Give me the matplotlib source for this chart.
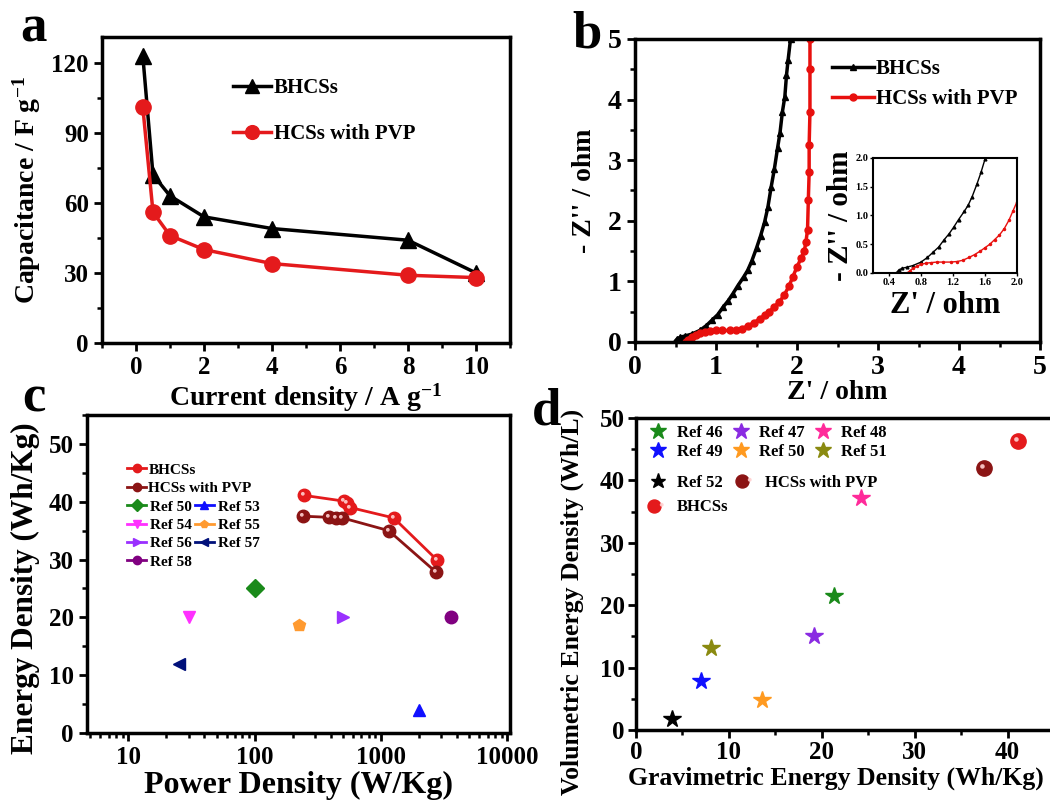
import numpy as np
import matplotlib

matplotlib.use("Agg")
import matplotlib.pyplot as plt
from matplotlib.markers import MarkerStyle
from matplotlib.transforms import Affine2D
from matplotlib.legend_handler import HandlerTuple
from matplotlib.ticker import MultipleLocator, FixedLocator, FixedFormatter, LogLocator, NullFormatter

plt.rcParams.update({
    "font.family": "serif",
    "font.serif": ["Liberation Serif", "DejaVu Serif"],
    "font.weight": "bold",
    "axes.labelweight": "bold",
    "mathtext.fontset": "custom",
    "mathtext.rm": "Liberation Serif:bold",
    "mathtext.bf": "Liberation Serif:bold",
    "mathtext.default": "bf",
    "axes.linewidth": 2.5,
    "xtick.direction": "out",
    "ytick.direction": "out",
    "xtick.major.width": 2,
    "ytick.major.width": 2,
    "xtick.minor.width": 1.8,
    "ytick.minor.width": 1.8,
    "xtick.major.size": 6,
    "ytick.major.size": 6,
    "xtick.minor.size": 3.5,
    "ytick.minor.size": 3.5,
})

# ---------- a: rate capability ----------
current_density = [0.2, 0.5, 1, 2, 4, 8, 10]
cap_bhcs = [123, 72, 63, 54, 49, 44, 30]
cap_hcs = [101, 56, 46, 40, 34, 29, 28]

# ---------- b: Nyquist plots ----------
zre_bhcs = [0.49, 0.52, 0.56, 0.62, 0.70, 0.80, 0.88, 0.95, 1.02, 1.09, 1.15, 1.21, 1.27, 1.34,
            1.39, 1.44, 1.50, 1.55, 1.60, 1.64, 1.68, 1.72, 1.76, 1.79, 1.82, 1.85, 1.87, 1.89, 1.92]
zim_bhcs = [0.00, 0.05, 0.08, 0.10, 0.13, 0.19, 0.27, 0.36, 0.45, 0.58, 0.68, 0.80, 0.93, 1.07,
            1.18, 1.33, 1.55, 1.75, 1.98, 2.22, 2.55, 2.85, 3.20, 3.45, 3.80, 4.05, 4.40, 4.65, 5.00]
zre_hcs = [0.63, 0.66, 0.70, 0.75, 0.80, 0.86, 0.92, 1.00, 1.08, 1.17, 1.25, 1.32, 1.40, 1.47,
           1.54, 1.60, 1.66, 1.72, 1.78, 1.84, 1.90, 1.95, 2.00, 2.05, 2.09, 2.11, 2.13, 2.14,
           2.15, 2.15, 2.16, 2.16, 2.16]
zim_hcs = [0.00, 0.04, 0.08, 0.12, 0.15, 0.17, 0.18, 0.19, 0.19, 0.19, 0.20, 0.22, 0.27, 0.32,
           0.38, 0.44, 0.50, 0.58, 0.66, 0.77, 0.92, 1.08, 1.24, 1.38, 1.50, 1.65, 1.85, 2.35,
           2.80, 3.25, 3.80, 4.50, 5.00]

# ---------- c: Ragone plot ----------
power_bhcs = [245, 510, 535, 570, 1260, 2750]
energy_bhcs = [41.1, 40.1, 39.7, 39.0, 37.2, 30.0]
power_hcs = [240, 390, 440, 495, 1150, 2700]
energy_hcs = [37.5, 37.3, 37.2, 37.2, 35.0, 27.9]
ref_c_labels = ["Ref 50", "Ref 53", "Ref 54", "Ref 55", "Ref 56", "Ref 57", "Ref 58"]
ref_c_power = [100, 2000, 30, 226, 500, 25, 3600]
ref_c_energy = [25.0, 4.0, 20.0, 18.7, 20.0, 12.0, 20.0]

# ---------- d: volumetric vs gravimetric ----------
ref_d_labels = ["Ref 46", "Ref 47", "Ref 48", "Ref 49", "Ref 50", "Ref 51", "Ref 52"]
ref_d_grav = [21.3, 19.2, 24.2, 6.95, 13.6, 8.1, 3.9]
ref_d_vol = [21.4, 15.1, 37.1, 7.9, 4.8, 13.1, 1.8]
grav_hcs, vol_hcs = [37.5], [42.0]
grav_bhcs, vol_bhcs = [41.1], [46.3]

W, H = 1050, 801
fig = plt.figure(figsize=(W / 100, H / 100), dpi=100)


def box(x0, y0, x1, y1):
    return [x0 / W, 1 - y1 / H, (x1 - x0) / W, (y1 - y0) / H]


def fpt(x, y):
    return (x / W, 1 - y / H)


RED = "#e41a1c"
DARKRED = "#8b1414"
hl_style = MarkerStyle("o", transform=Affine2D().translate(-0.45, 0.45))


def sphere(ax, x, y, color, ms):
    base, = ax.plot(x, y, ls="none", marker="o", ms=ms, mfc=color, mec=color, zorder=4)
    hl, = ax.plot(x, y, ls="none", marker=hl_style, ms=ms * 0.3, mfc="#ffd0d0", mec="none",
                  alpha=0.9, zorder=5)
    return base, hl


# ---------- panel a ----------
ax_a = fig.add_axes(box(102, 37, 510, 343))
ax_a.plot(current_density, cap_bhcs, color="black", lw=2.5, marker="^", ms=11, label="BHCSs")
ax_a.plot(current_density, cap_hcs, color=RED, lw=2.5, marker="o", ms=11, label="HCSs with PVP")
ax_a.set_xlim(-1, 11)
ax_a.set_ylim(0, 131)
ax_a.xaxis.set_major_locator(MultipleLocator(2))
ax_a.xaxis.set_minor_locator(MultipleLocator(1))
ax_a.yaxis.set_major_locator(MultipleLocator(30))
ax_a.yaxis.set_minor_locator(MultipleLocator(15))
ax_a.tick_params(labelsize=18)
ax_a.set_xlabel("Current density / A g$^{-1}$", fontsize=20, labelpad=2)
ax_a.set_ylabel("Capacitance / F g$^{-1}$", fontsize=20, labelpad=6)
ax_a.legend(loc="upper left", bbox_to_anchor=fpt(233, 78), bbox_transform=fig.transFigure,
            frameon=False, fontsize=15, handlelength=1.8, handletextpad=0.15,
            labelspacing=1.25, borderpad=0, borderaxespad=0, markerscale=0.9)

# ---------- panel b ----------
ax_b = fig.add_axes(box(635, 39, 1040, 342))
ax_b.plot(zre_bhcs, zim_bhcs, color="black", lw=2.5, marker="^", ms=4, label="BHCSs")
ax_b.plot(zre_hcs, zim_hcs, color="#e8100e", lw=2.5, marker="o", ms=5, label="HCSs with PVP")
ax_b.set_xlim(0, 5)
ax_b.set_ylim(0, 5)
ax_b.xaxis.set_major_locator(MultipleLocator(1))
ax_b.xaxis.set_minor_locator(MultipleLocator(0.5))
ax_b.yaxis.set_major_locator(MultipleLocator(1))
ax_b.yaxis.set_minor_locator(MultipleLocator(0.5))
ax_b.tick_params(labelsize=20)
ax_b.set_xlabel("Z' / ohm", fontsize=20, labelpad=0)
ax_b.set_ylabel("- Z'' / ohm", fontsize=20, labelpad=8)
ax_b.legend(loc="upper left", bbox_to_anchor=fpt(832, 59), bbox_transform=fig.transFigure,
            frameon=False, fontsize=15, handlelength=2.0, handletextpad=0.1,
            labelspacing=0.5, borderpad=0, borderaxespad=0)

ax_in = fig.add_axes(box(873, 158, 1017, 273))
ax_in.plot(zre_bhcs, zim_bhcs, color="black", lw=1, marker="^", ms=2)
ax_in.plot(zre_hcs, zim_hcs, color="#e8100e", lw=1, marker="o", ms=1.5)
ax_in.set_xlim(0.2, 2.0)
ax_in.set_ylim(0, 2.0)
ax_in.xaxis.set_major_locator(FixedLocator([0.4, 0.8, 1.2, 1.6, 2.0]))
ax_in.yaxis.set_major_locator(FixedLocator([0.0, 0.5, 1.0, 1.5, 2.0]))
ax_in.tick_params(labelsize=7.5, width=1, length=2.5, pad=1)
for sp in ax_in.spines.values():
    sp.set_linewidth(1.5)
ax_in.set_xlabel("Z' / ohm", fontsize=22, labelpad=3)
ax_in.set_ylabel("- Z'' / ohm", fontsize=21, labelpad=1)

# ---------- panel c ----------
ax_c = fig.add_axes(box(87, 415, 510, 733))
h_b = sphere(ax_c, power_bhcs, energy_bhcs, RED, 9)
ax_c.plot(power_bhcs, energy_bhcs, color=RED, lw=2, zorder=3)
h_h = sphere(ax_c, power_hcs, energy_hcs, DARKRED, 9)
ax_c.plot(power_hcs, energy_hcs, color=DARKRED, lw=2, zorder=3)
ref_c_markers = ["D", "^", "v", "p", ">", "<", "o"]
ref_c_colors = ["#1a8a1a", "#1010ff", "#ff30ff", "#ff9a30", "#9a30ff", "#00107a", "#800080"]
ref_c_handles = []
for lab, px_, en, mk, col in zip(ref_c_labels, ref_c_power, ref_c_energy, ref_c_markers, ref_c_colors):
    ax_c.plot([px_], [en], ls="none", marker=mk, ms=9, color=col)
    h, = ax_c.plot([], [], color=col, lw=2, marker=mk, ms=6, label=lab)
    ref_c_handles.append(h)
ax_c.set_xscale("log")
ax_c.set_xlim(4.7, 10500)
ax_c.set_ylim(0, 55)
ax_c.xaxis.set_major_locator(FixedLocator([10, 100, 1000, 10000]))
ax_c.xaxis.set_major_formatter(FixedFormatter(["10", "100", "1000", "10000"]))
ax_c.xaxis.set_minor_locator(LogLocator(base=10, subs=np.arange(2, 10)))
ax_c.xaxis.set_minor_formatter(NullFormatter())
ax_c.yaxis.set_major_locator(MultipleLocator(10))
ax_c.yaxis.set_minor_locator(MultipleLocator(5))
ax_c.tick_params(labelsize=18)
ax_c.set_xlabel("Power Density (W/Kg)", fontsize=23, labelpad=1)
ax_c.set_ylabel("Energy Density (Wh/Kg)", fontsize=22.5)
ax_c.yaxis.set_label_coords(-0.111, 0.456)

lb_b, = ax_c.plot([], [], color=RED, lw=2, marker="o", ms=6)
lb_h, = ax_c.plot([], [], color=DARKRED, lw=2, marker="o", ms=6)
leg_c1 = ax_c.legend([lb_b, lb_h], ["BHCSs", "HCSs with PVP"], loc="upper left",
                     bbox_to_anchor=fpt(127, 463), bbox_transform=fig.transFigure,
                     frameon=False, fontsize=11, handlelength=1.25, handletextpad=0.15,
                     labelspacing=0.3, borderpad=0, borderaxespad=0)
ax_c.add_artist(leg_c1)
order_c = [0, 2, 4, 6, 1, 3, 5]
ax_c.legend([ref_c_handles[i] for i in order_c], [ref_c_labels[i] for i in order_c],
            ncol=2, loc="upper left", bbox_to_anchor=fpt(127, 500), bbox_transform=fig.transFigure,
            frameon=False, fontsize=11, handlelength=1.25, handletextpad=0.25,
            labelspacing=0.3, columnspacing=0.2, borderpad=0, borderaxespad=0)

# ---------- panel d ----------
ax_d = fig.add_axes(box(636, 418, 1054, 730))
ref_d_colors = ["#1a8a1a", "#8a2be2", "#ff2a9a", "#1010ff", "#ff9a20", "#8a8a10", "#000000"]
ref_d_handles = []
for lab, gx, vy, col in zip(ref_d_labels, ref_d_grav, ref_d_vol, ref_d_colors):
    h, = ax_d.plot([gx], [vy], ls="none", marker="*", ms=13, color=col, label=lab)
    ref_d_handles.append(h)
hd_h = sphere(ax_d, grav_hcs, vol_hcs, DARKRED, 11)
hd_b = sphere(ax_d, grav_bhcs, vol_bhcs, RED, 11)
ax_d.set_xlim(0, 45)
ax_d.set_ylim(0, 50)
ax_d.xaxis.set_major_locator(MultipleLocator(10))
ax_d.xaxis.set_minor_locator(MultipleLocator(5))
ax_d.yaxis.set_major_locator(MultipleLocator(10))
ax_d.yaxis.set_minor_locator(MultipleLocator(5))
ax_d.tick_params(labelsize=18, pad=2)
ax_d.set_xlabel("Gravimetric Energy Density (Wh/Kg)", fontsize=18.5)
ax_d.xaxis.set_label_coords((836 - 636) / 418, -0.118)
ax_d.set_ylabel("Volumetric Energy Density (Wh/L)", fontsize=18.5)
ax_d.yaxis.set_label_coords(-0.125, 0.41)

order_d = [0, 3, 1, 4, 2, 5]
leg_d1 = ax_d.legend([ref_d_handles[i] for i in order_d], [ref_d_labels[i] for i in order_d],
                     ncol=3, loc="upper left", bbox_to_anchor=fpt(650, 425),
                     bbox_transform=fig.transFigure, frameon=False, fontsize=12,
                     handlelength=1.0, handletextpad=0.6, labelspacing=0.2,
                     columnspacing=0.6, borderpad=0, borderaxespad=0, markerscale=0.9)
ax_d.add_artist(leg_d1)
ax_d.legend([ref_d_handles[6], hd_b, hd_h], ["Ref 52", "BHCSs", "HCSs with PVP"],
            handler_map={tuple: HandlerTuple(ndivide=None, pad=0)},
            ncol=2, loc="upper left", bbox_to_anchor=fpt(650, 475),
            bbox_transform=fig.transFigure, frameon=False, fontsize=12,
            handlelength=1.0, handletextpad=0.6, labelspacing=0.5,
            columnspacing=0.6, borderpad=0, borderaxespad=0, markerscale=0.85)

# ---------- panel letters ----------
for letter, (x, y) in zip("abcd", [(20, 42), (572, 47), (22, 411), (532, 425)]):
    fig.text(*fpt(x, y), letter, fontsize=38, fontweight="bold", ha="left", va="baseline")

fig.savefig("out.png", dpi=100)
